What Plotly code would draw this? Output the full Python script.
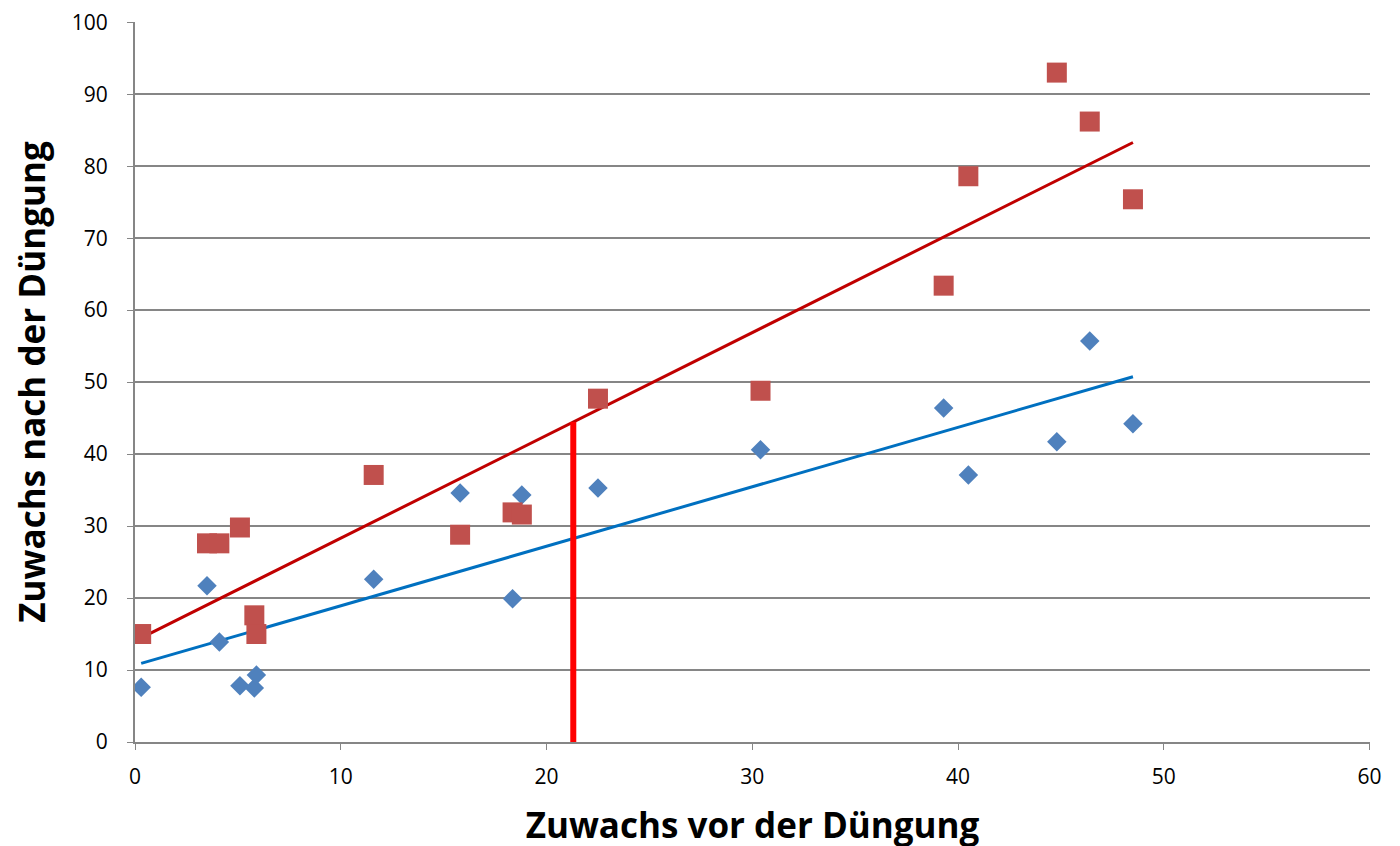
import numpy as np
import plotly.graph_objects as go

# Data
x_vor = [0.3, 3.5, 4.1, 5.1, 5.8, 5.9, 11.6, 15.8, 18.35, 18.8, 22.5, 30.4, 39.3, 40.5, 44.8, 46.4, 48.5]
y_ohne = [7.6, 21.7, 13.9, 7.8, 7.5, 9.3, 22.6, 34.6, 19.9, 34.3, 35.3, 40.6, 46.4, 37.1, 41.7, 55.7, 44.2]
y_mit = [15.0, 27.6, 27.6, 29.8, 17.6, 15.0, 37.1, 28.8, 31.9, 31.6, 47.7, 48.8, 63.4, 78.6, 93.0, 86.2, 75.4]
x_mark = 21.3

x_ticks = [0, 10, 20, 30, 40, 50, 60]
y_ticks = [0, 10, 20, 30, 40, 50, 60, 70, 80, 90, 100]

xa = np.array(x_vor)
b1, a1 = np.polyfit(xa, np.array(y_ohne), 1)
b2, a2 = np.polyfit(xa, np.array(y_mit), 1)
xl = [min(x_vor), max(x_vor)]

fig = go.Figure()
fig.add_trace(go.Scatter(x=xl, y=[a1 + b1 * v for v in xl], mode="lines",
                         line=dict(color="#0070C0", width=3), showlegend=False, hoverinfo="skip"))
fig.add_trace(go.Scatter(x=xl, y=[a2 + b2 * v for v in xl], mode="lines",
                         line=dict(color="#C00000", width=3), showlegend=False, hoverinfo="skip"))
fig.add_trace(go.Scatter(x=x_vor, y=y_ohne, mode="markers",
                         marker=dict(symbol="diamond", size=15, color="#4F81BD", line=dict(width=0)),
                         showlegend=False))
fig.add_trace(go.Scatter(x=x_vor, y=y_mit, mode="markers",
                         marker=dict(symbol="square", size=20, color="#C0504D", line=dict(width=0)),
                         showlegend=False))
fig.add_trace(go.Scatter(x=[x_mark, x_mark], y=[0, a2 + b2 * x_mark], mode="lines",
                         line=dict(color="#FF0000", width=6), showlegend=False))

font_family = "Open Sans, Liberation Sans, sans-serif"
fig.update_layout(
    width=1400, height=846,
    margin=dict(l=127, r=38, t=14, b=112),
    plot_bgcolor="white", paper_bgcolor="white",
    font=dict(family=font_family, size=21, color="black"),
    xaxis=dict(range=[0, 60.02], tickvals=x_ticks, showgrid=False, zeroline=False, automargin=False,
               showline=True, linecolor="#868686", linewidth=2,
               ticks="outside", ticklen=6, tickcolor="#868686", tickwidth=1,
               tickfont=dict(size=21), ticklabelstandoff=9, ticklabeloverflow="allow",
               title=dict(text="<b>Zuwachs vor der Düngung</b>", font=dict(size=35), standoff=24)),
    yaxis=dict(range=[0, 100.03], tickvals=y_ticks, showgrid=True, gridcolor="#868686", gridwidth=2,
               zeroline=False, showline=True, linecolor="#868686", linewidth=2, automargin=False,
               ticks="outside", ticklen=6, tickcolor="#868686", tickwidth=1,
               tickfont=dict(size=21), ticklabelstandoff=15, ticklabeloverflow="allow",
               title=dict(text="<b>Zuwachs nach der Düngung</b>", font=dict(size=35), standoff=23)),
)

fig.write_html("out.html")
